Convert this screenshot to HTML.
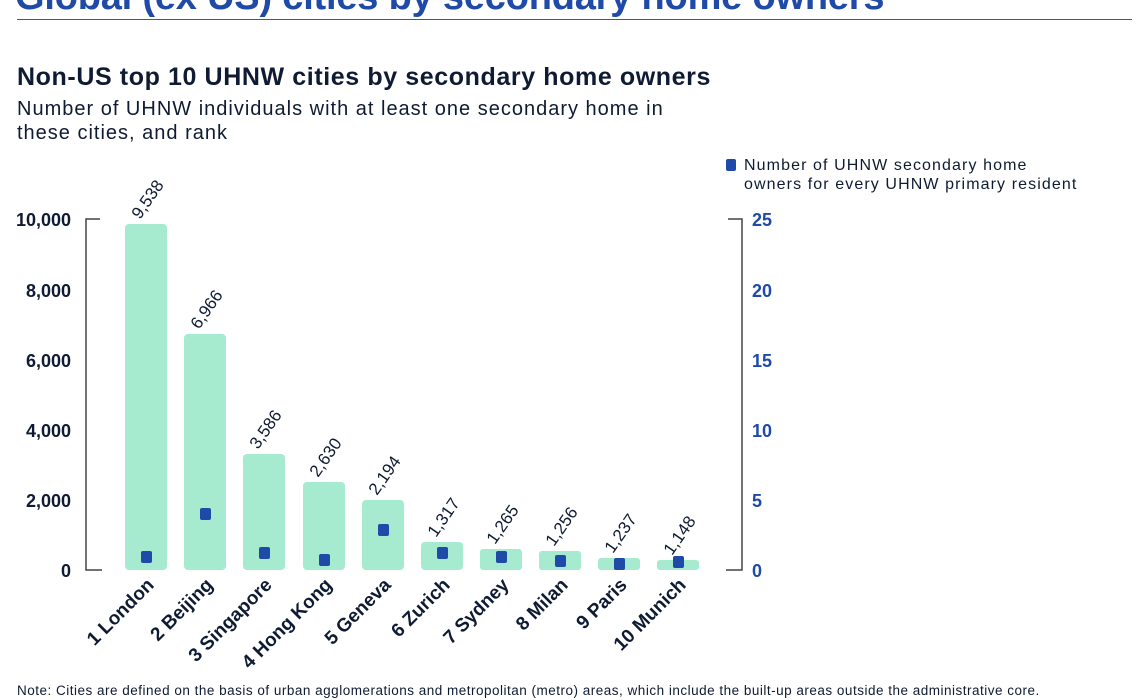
<!DOCTYPE html>
<html><head><style>
body{margin:0;width:1140px;height:700px;background:#fff;overflow:hidden;font-family:"Liberation Sans",sans-serif;position:relative}
.a{position:absolute;white-space:nowrap}
</style></head><body>
<div class="a" style="left:15px;top:-24px;font-size:38px;font-weight:bold;color:#1f4aa8;letter-spacing:-0.2px">Global (ex US) cities by secondary home owners</div>
<div class="a" style="left:17px;top:19px;width:1115px;height:1px;background:#555"></div>
<div class="a" style="left:17px;top:63px;font-size:25px;font-weight:bold;color:#0f1b33;letter-spacing:0.6px">Non-US top 10 UHNW cities by secondary home owners</div>
<div class="a" style="left:17px;top:97px;font-size:20px;color:#0f1b33;line-height:24px;letter-spacing:1px">Number of UHNW individuals with at least one secondary home in<br>these cities, and rank</div>
<div class="a" style="left:726px;top:159px;width:10px;height:12px;background:#1f4aa8;border-radius:2px"></div>
<div class="a" style="left:744px;top:156px;font-size:16px;color:#0f1b33;line-height:19px;letter-spacing:1.1px">Number of UHNW secondary home<br>owners for every UHNW primary resident</div>
<svg class="a" style="left:0;top:0" width="1140" height="700">
<g stroke="#444" stroke-width="1.5" fill="none">
<path d="M100 219H86V570H102"/><path d="M728 219H742V570H726"/>
</g>
<g font-size="18" font-weight="bold" fill="#0f1b33" text-anchor="end">
<text x="71" y="226">10,000</text><text x="71" y="297">8,000</text><text x="71" y="367">6,000</text><text x="71" y="437">4,000</text><text x="71" y="507">2,000</text><text x="71" y="577">0</text>
</g>
<g font-size="18" font-weight="bold" fill="#1f4aa8">
<text x="752" y="226">25</text><text x="752" y="297">20</text><text x="752" y="367">15</text><text x="752" y="437">10</text><text x="752" y="507">5</text><text x="752" y="577">0</text>
</g>
<g fill="#a6ead0">
<rect x="125" y="224" width="42" height="346" rx="4"/>
<rect x="184" y="334" width="42" height="236" rx="4"/>
<rect x="243" y="454" width="42" height="116" rx="4"/>
<rect x="303" y="482" width="42" height="88" rx="4"/>
<rect x="362" y="500" width="42" height="70" rx="4"/>
<rect x="421" y="542" width="42" height="28" rx="4"/>
<rect x="480" y="549" width="42" height="21" rx="3"/>
<rect x="539" y="551" width="42" height="19" rx="3"/>
<rect x="598" y="558" width="42" height="12" rx="3"/>
<rect x="657" y="560" width="42" height="10" rx="3"/>
</g>
<g fill="#1f4aa8">
<rect x="141" y="551" width="11" height="12" rx="2"/>
<rect x="200" y="508" width="11" height="12" rx="2"/>
<rect x="259" y="547" width="11" height="12" rx="2"/>
<rect x="319" y="554" width="11" height="12" rx="2"/>
<rect x="378" y="524" width="11" height="12" rx="2"/>
<rect x="437" y="547" width="11" height="12" rx="2"/>
<rect x="496" y="551" width="11" height="12" rx="2"/>
<rect x="555" y="555" width="11" height="12" rx="2"/>
<rect x="614" y="558" width="11" height="12" rx="2"/>
<rect x="673" y="556" width="11" height="12" rx="2"/>
</g>
<g font-size="17" fill="#0f1b33">
<text transform="translate(140,220) rotate(-55)">9,538</text>
<text transform="translate(199,330) rotate(-55)">6,966</text>
<text transform="translate(258,450) rotate(-55)">3,586</text>
<text transform="translate(318,478) rotate(-55)">2,630</text>
<text transform="translate(377,496) rotate(-55)">2,194</text>
<text transform="translate(436,538) rotate(-55)">1,317</text>
<text transform="translate(495,545) rotate(-55)">1,265</text>
<text transform="translate(554,547) rotate(-55)">1,256</text>
<text transform="translate(613,554) rotate(-55)">1,237</text>
<text transform="translate(672,556) rotate(-55)">1,148</text>
</g>
<g font-size="19" font-weight="bold" fill="#0f1b33" text-anchor="end">
<text transform="translate(155,586) rotate(-45)">1 London</text>
<text transform="translate(214,586) rotate(-45)">2 Beijing</text>
<text transform="translate(273,586) rotate(-45)">3 Singapore</text>
<text transform="translate(333,586) rotate(-45)">4 Hong Kong</text>
<text transform="translate(392,586) rotate(-45)">5 Geneva</text>
<text transform="translate(451,586) rotate(-45)">6 Zurich</text>
<text transform="translate(510,586) rotate(-45)">7 Sydney</text>
<text transform="translate(569,586) rotate(-45)">8 Milan</text>
<text transform="translate(628,586) rotate(-45)">9 Paris</text>
<text transform="translate(687,586) rotate(-45)">10 Munich</text>
</g>
</svg>
<div class="a" style="left:17px;top:683px;font-size:13.5px;color:#0f1b33;letter-spacing:0.5px">Note: Cities are defined on the basis of urban agglomerations and metropolitan (metro) areas, which include the built-up areas outside the administrative core.</div>
</body></html>
